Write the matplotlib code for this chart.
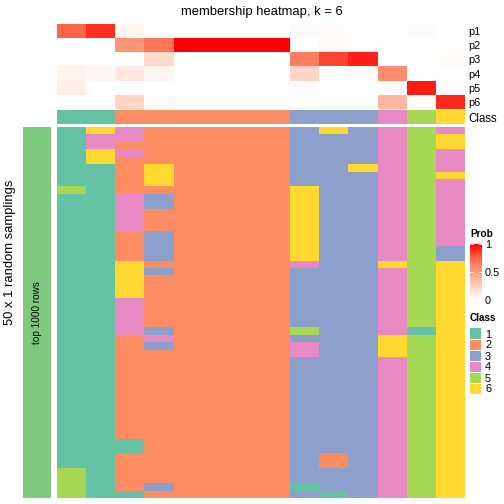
import numpy as np
import matplotlib.pyplot as plt
from matplotlib.colors import ListedColormap, LinearSegmentedColormap
from matplotlib.cm import ScalarMappable
from matplotlib.colors import Normalize

plt.rcParams['font.family'] = ['Liberation Sans', 'DejaVu Sans']

# membership probabilities per column (14 samples)
p1 = [0.75, 0.88, 0.05, 0.00, 0, 0, 0, 0, 0.02, 0.03, 0.00, 0.00, 0.02, 0.00]
p2 = [0.00, 0.00, 0.55, 0.68, 1, 1, 1, 1, 0.00, 0.03, 0.00, 0.00, 0.00, 0.00]
p3 = [0.00, 0.00, 0.00, 0.20, 0, 0, 0, 0, 0.65, 0.83, 0.92, 0.00, 0.00, 0.02]
p4 = [0.06, 0.04, 0.12, 0.05, 0, 0, 0, 0, 0.22, 0.00, 0.02, 0.58, 0.00, 0.00]
p5 = [0.09, 0.00, 0.00, 0.00, 0, 0, 0, 0, 0.02, 0.00, 0.00, 0.00, 0.93, 0.00]
p6 = [0.00, 0.00, 0.22, 0.02, 0, 0, 0, 0, 0.00, 0.00, 0.00, 0.38, 0.00, 0.90]
prob_rows = ['p1', 'p2', 'p3', 'p4', 'p5', 'p6']

class_row = [1, 1, 2, 2, 2, 2, 2, 2, 3, 3, 3, 4, 5, 6]

# class of each sample in each of the 50 samplings (one string per column, top to bottom)
samplings = [
    "11111111" "5" + "1" * 37 + "5555",
    "6" "44" "66" + "1" * 45,
    "44" "2" "4" "22222" "44444" "2222" "66666" "44444" + "2" * 14 + "11" "22222" "1",
    "22222" "666" "2" "33" "222" "3333" "2" "3" "2222222" "3" "4" "3" + "2" * 18 + "3" "2",
    "2" * 50,
    "2" * 50,
    "2" * 50,
    "2" * 50,
    "33333333" "6666666666" "4" "33333333" "5" "3" "44" + "3" * 17 + "1" "3",
    "6" + "3" * 43 + "22" "333" "1",
    "33333" "6" + "3" * 44,
    "4" * 18 + "6" + "4" * 9 + "666" + "4" * 19,
    "5" * 27 + "1" + "5" * 22,
    "4" "66" "444" "6" "444444444" "33" + "6" * 32,
]

class_colors = ['#66C2A5', '#FC8D62', '#8DA0CB', '#E78AC3', '#A6D854', '#FFD92F']
class_cmap = ListedColormap(class_colors)
prob_cmap = LinearSegmentedColormap.from_list(
    'prob', ['#FFFFFF', '#FFD0BE', '#FF9E81', '#FF6746', '#FF0000'])

W, H = 504, 504
fig = plt.figure(figsize=(7, 7), dpi=72)


def px_axes(x0, y0, x1, y1):
    ax = fig.add_axes([x0 / W, 1 - y1 / H, (x1 - x0) / W, (y1 - y0) / H])
    for s in ax.spines.values():
        s.set_visible(False)
    ax.set_xticks([])
    ax.set_yticks([])
    return ax


# probability heatmap
prob = np.array([p1, p2, p3, p4, p5, p6])
ax_p = px_axes(57, 24, 465, 109)
ax_p.imshow(prob, cmap=prob_cmap, vmin=0, vmax=1, aspect='auto', interpolation='nearest')
ax_p.yaxis.tick_right()
ax_p.set_yticks(range(len(prob_rows)))
ax_p.set_yticklabels(prob_rows, fontsize=11)
ax_p.tick_params(length=0, pad=3)

# class annotation
ax_c = px_axes(57, 110, 465, 124)
ax_c.imshow([class_row], cmap=class_cmap, vmin=0.5, vmax=6.5, aspect='auto', interpolation='nearest')
ax_c.yaxis.tick_right()
ax_c.set_yticks([0])
ax_c.set_yticklabels(['Class'], fontsize=11.5)
ax_c.tick_params(length=0, pad=3)

# sampling membership
memb = np.array([[int(c) for c in s] for s in samplings]).T
ax_m = px_axes(57, 127, 465, 498)
ax_m.imshow(memb, cmap=class_cmap, vmin=0.5, vmax=6.5, aspect='auto', interpolation='nearest')

# left annotation bar
ax_l = px_axes(23, 127, 51, 498)
ax_l.set_facecolor('#7FC97F')
ax_l.text(0.5, 0.5, 'top 1000 rows', rotation=90, ha='center', va='center',
          fontsize=10, transform=ax_l.transAxes)

fig.text(10.5 / W, 1 - 252 / H, '50 x 1 random samplings', rotation=90,
         ha='center', va='center', fontsize=13)
fig.text(262 / W, 1 - 12 / H, 'membership heatmap, k = 6', ha='center', va='center', fontsize=13)

# Prob legend
fig.text(470 / W, 1 - 234 / H, 'Prob', fontsize=10, fontweight='bold', va='center')
cax = fig.add_axes([470 / W, 1 - 300 / H, 12 / W, 56 / H])
cb = fig.colorbar(ScalarMappable(norm=Normalize(0, 1), cmap=prob_cmap), cax=cax, ticks=[0, 0.5, 1])
cb.outline.set_visible(False)
cax.set_yticklabels(['0', '0.5', '1'])
cax.tick_params(length=0, labelsize=11, pad=3)
for t in [0.5, 1]:
    cax.axhline(t, xmin=0, xmax=0.25, color='white', lw=1, alpha=0.7)
    cax.axhline(t, xmin=0.75, xmax=1, color='white', lw=1, alpha=0.7)

# Class legend
fig.text(470 / W, 1 - 318 / H, 'Class', fontsize=10, fontweight='bold', va='center')
ax_k = px_axes(470, 328, 481, 394)
ax_k.imshow(np.arange(1, 7).reshape(6, 1), cmap=class_cmap, vmin=0.5, vmax=6.5,
            aspect='auto', interpolation='nearest')
for i in range(5):
    ax_k.axhline(i + 0.5, color='white', lw=1)
ax_k.yaxis.tick_right()
ax_k.set_yticks(range(6))
ax_k.set_yticklabels([str(i) for i in range(1, 7)], fontsize=11)
ax_k.tick_params(length=0, pad=4)

fig.savefig('out.png', dpi=72)
